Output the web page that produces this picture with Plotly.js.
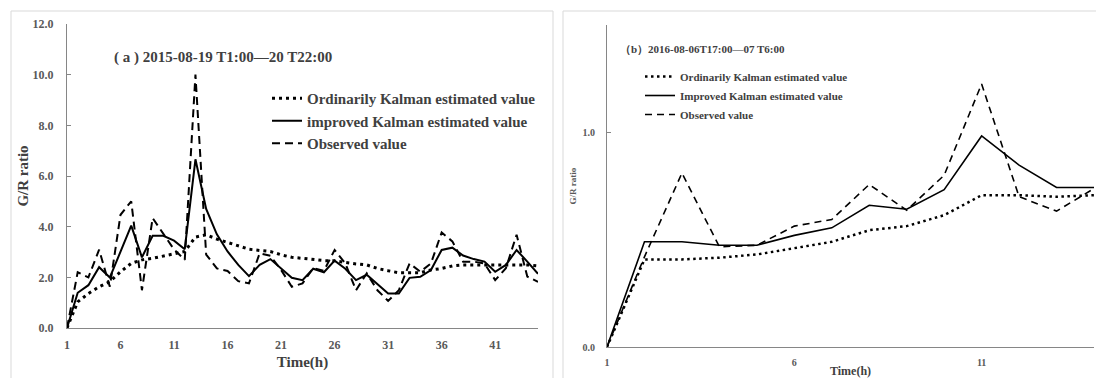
<!DOCTYPE html>
<html>
<head>
<meta charset="utf-8">
<script src="https://cdn.plot.ly/plotly-3.0.1.min.js"></script>
<style>body{margin:0;background:#fff}#chart{width:1096px;height:378px}</style>
</head>
<body>
<div id="chart"></div>
<script>
// ---- Panel (a): 2015-08-19 T1:00 — 20 T22:00 ----
const hoursA = Array.from({length: 45}, (_, i) => i + 1);
const ordinaryA = [0, 1.03, 1.36, 1.63, 1.83, 2.22, 2.55, 2.69, 2.75, 2.85, 2.93, 3.02, 3.59, 3.68, 3.51,
  3.38, 3.24, 3.11, 3.06, 3.02, 2.89, 2.79, 2.75, 2.71, 2.66, 2.65, 2.58, 2.53, 2.49, 2.35,
  2.26, 2.18, 2.18, 2.18, 2.29, 2.35, 2.45, 2.49, 2.49, 2.49, 2.49, 2.49, 2.51, 2.49, 2.45];
const improvedA = [0, 1.39, 1.69, 2.40, 1.99, 3.02, 4.04, 2.79, 3.64, 3.64, 3.45, 3.11, 6.66, 4.7, 3.7,
  3.02, 2.49, 2.05, 2.49, 2.72, 2.35, 1.98, 1.89, 2.34, 2.2, 2.66, 2.34, 1.89, 2.1, 1.72,
  1.36, 1.36, 1.98, 2.02, 2.29, 3.08, 3.17, 2.86, 2.72, 2.62, 2.22, 2.49, 3.08, 2.62, 2.14];
const observedA = [0, 2.2, 2.0, 3.09, 1.63, 4.47, 5.0, 1.49, 4.34, 3.74, 3.1, 2.69, 10.0, 2.9, 2.35,
  2.25, 1.85, 1.76, 2.95, 2.85, 2.29, 1.63, 1.76, 2.36, 2.26, 3.08, 2.55, 1.49, 2.16, 1.49,
  1.07, 1.49, 2.55, 2.22, 2.55, 3.77, 3.42, 2.62, 2.62, 2.55, 1.89, 2.36, 3.68, 2.03, 1.82];
const xTicksA = [1, 6, 11, 16, 21, 26, 31, 36, 41];
const yTicksA = [0, 2, 4, 6, 8, 10, 12];
const namesA = ["Ordinarily Kalman estimated value", "improved Kalman estimated value", "Observed value"];
const titleA = "( a ) 2015-08-19 T1:00\u201420 T22:00";

// ---- Panel (b): 2016-08-06 T17:00 — 07 T6:00 ----
const hoursB = Array.from({length: 14}, (_, i) => i + 1);
const ordinaryB = [0, 0.408, 0.408, 0.416, 0.431, 0.459, 0.49, 0.544, 0.563, 0.614, 0.707, 0.707, 0.70, 0.707];
const improvedB = [0, 0.49, 0.49, 0.474, 0.474, 0.52, 0.555, 0.66, 0.642, 0.733, 0.983, 0.847, 0.743, 0.743];
const observedB = [0, 0.42, 0.81, 0.467, 0.474, 0.563, 0.594, 0.757, 0.637, 0.80, 1.225, 0.70, 0.633, 0.738];
const xTicksB = [1, 6, 11];
const yTicksB = [0, 1];
const namesB = ["Ordinarily Kalman estimated value", "Improved Kalman estimated value", "Observed value"];
const titleB = "\uff08b\uff092016-08-06T17:00\u201407 T6:00";

const SERIF = "Liberation Serif, Times New Roman, serif";
const W = 1096, H = 378;
const px = v => v / W, py = v => 1 - v / H;

const traces = [
  {x: hoursA, y: ordinaryA, name: namesA[0], mode: "lines", line: {color: "#000", width: 3, dash: "3px,4px"}, xaxis: "x", yaxis: "y", legend: "legend"},
  {x: hoursA, y: improvedA, name: namesA[1], mode: "lines", line: {color: "#000", width: 2}, xaxis: "x", yaxis: "y", legend: "legend"},
  {x: hoursA, y: observedA, name: namesA[2], mode: "lines", line: {color: "#000", width: 2, dash: "8px,5px"}, xaxis: "x", yaxis: "y", legend: "legend"},
  {x: hoursB, y: ordinaryB, name: namesB[0], mode: "lines", line: {color: "#000", width: 2.5, dash: "2.5px,3.5px"}, xaxis: "x2", yaxis: "y2", legend: "legend2"},
  {x: hoursB, y: improvedB, name: namesB[1], mode: "lines", line: {color: "#000", width: 1.6}, xaxis: "x2", yaxis: "y2", legend: "legend2"},
  {x: hoursB, y: observedB, name: namesB[2], mode: "lines", line: {color: "#000", width: 1.6, dash: "7px,5px"}, xaxis: "x2", yaxis: "y2", legend: "legend2"}
];

const axisCommon = {showgrid: false, zeroline: false, showline: true, linecolor: "#868686", linewidth: 1, fixedrange: true};
const tickFontA = {family: SERIF, size: 12, color: "#595959", weight: "bold"};
const tickFontB = {family: SERIF, size: 10, color: "#595959", weight: "bold"};

const layout = {
  width: W, height: H,
  margin: {l: 0, r: 0, t: 0, b: 0},
  paper_bgcolor: "#fff", plot_bgcolor: "rgba(0,0,0,0)",
  showlegend: true,
  xaxis: Object.assign({}, axisCommon, {
    domain: [px(67), px(538)], range: [1, 45], tickvals: xTicksA, ticks: "",
    tickfont: tickFontA, ticklabelstandoff: 6,
    title: {text: "Time(h)", font: {family: SERIF, size: 15, color: "#404040", weight: "bold"}, standoff: 5}
  }),
  yaxis: Object.assign({}, axisCommon, {
    domain: [1 - 328 / H, 1 - 24 / H], range: [0, 12], tickvals: yTicksA, tickformat: ".1f",
    ticks: "inside", ticklen: 4, tickcolor: "#868686", tickfont: tickFontA, ticklabelstandoff: 10,
    title: {text: "G/R ratio", font: {family: SERIF, size: 15, color: "#404040", weight: "bold"}, standoff: 0}
  }),
  xaxis2: Object.assign({}, axisCommon, {
    domain: [px(607), px(1094)], range: [1, 14], tickvals: xTicksB, ticks: "",
    tickfont: tickFontB, ticklabelstandoff: 6, anchor: "y2",
    title: {text: "Time(h)", font: {family: SERIF, size: 12, color: "#404040", weight: "bold"}, standoff: 2}
  }),
  yaxis2: Object.assign({}, axisCommon, {
    domain: [1 - 347 / H, 1 - 25 / H], range: [0, 1.5], tickvals: yTicksB, tickformat: ".1f",
    ticks: "inside", ticklen: 4, tickcolor: "#868686", tickfont: tickFontB, ticklabelstandoff: 9, anchor: "x2",
    title: {text: "G/R ratio", font: {family: SERIF, size: 9, color: "#595959", weight: "bold"}, standoff: 4}
  }),
  legend: {
    x: px(267), y: py(82), xanchor: "left", yanchor: "top",
    bgcolor: "rgba(0,0,0,0)", borderwidth: 0,
    font: {family: SERIF, size: 15, color: "#404040", weight: "bold"}, tracegroupgap: 0
  },
  legend2: {
    x: px(640), y: py(62), xanchor: "left", yanchor: "top",
    bgcolor: "rgba(0,0,0,0)", borderwidth: 0,
    font: {family: SERIF, size: 11, color: "#404040", weight: "bold"}, tracegroupgap: 0
  },
  annotations: [
    {text: titleA, xref: "paper", yref: "paper", x: px(112), y: py(57), xanchor: "left", yanchor: "middle",
     showarrow: false, font: {family: SERIF, size: 15, color: "#404040", weight: "bold"}},
    {text: titleB, xref: "paper", yref: "paper", x: px(618), y: py(49), xanchor: "left", yanchor: "middle",
     showarrow: false, font: {family: SERIF, size: 11, color: "#404040", weight: "bold"}}
  ],
  shapes: [
    {type: "rect", xref: "paper", yref: "paper", x0: px(11), x1: px(553), y0: -0.05, y1: py(11),
     line: {color: "#d9d9d9", width: 1}, fillcolor: "rgba(0,0,0,0)", layer: "below"},
    {type: "rect", xref: "paper", yref: "paper", x0: px(563), x1: 1.05, y0: -0.05, y1: py(11),
     line: {color: "#d9d9d9", width: 1}, fillcolor: "rgba(0,0,0,0)", layer: "below"}
  ]
};

Plotly.newPlot("chart", traces, layout, {displayModeBar: false, staticPlot: true});
</script>
</body>
</html>
